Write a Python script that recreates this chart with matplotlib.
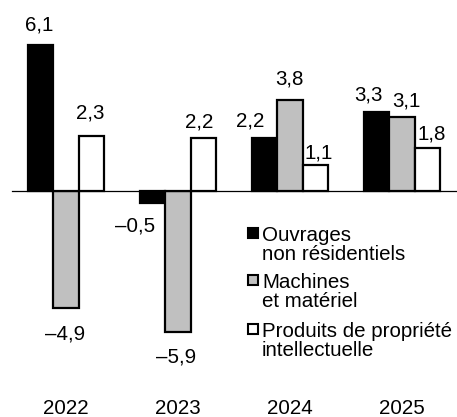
import numpy as np
import matplotlib.pyplot as plt
from matplotlib.patches import Rectangle

plt.rcParams['font.family'] = ['Liberation Sans', 'DejaVu Sans']

years = ["2022", "2023", "2024", "2025"]
series_names = ["Ouvrages\nnon résidentiels", "Machines\net matériel",
                "Produits de propriété\nintellectuelle"]
ouvrages = [6.1, -0.5, 2.2, 3.3]
machines = [-4.9, -5.9, 3.8, 3.1]
produits = [2.3, 2.2, 1.1, 1.8]

colors = ["black", "#c0c0c0", "white"]
fs = 14.8

# label offsets in pixels (dx, dy) from the end of each bar to the label centre
label_offsets = [
    [(-1, 20), (-17, -23), (-14, 17), (-8, 17)],
    [(-1, -26), (-2, -25), (-1, 21), (4, 16)],
    [(-1, 23), (-4, 16), (3, 12), (4, 14)],
]

W, H, DPI = 457, 417, 100
fig = plt.figure(figsize=(W / DPI, H / DPI), dpi=DPI)
ax = fig.add_axes([0, 0, 1, 1])

# 112 px per group, 23.9 px per unit, zero line 191 px from the top
px_x, px_y = 112.0, 23.9
x0, y0 = 66.0, 191.0
ax.set_xlim(-x0 / px_x, (W - x0) / px_x)
ax.set_ylim(-(H - y0) / px_y, y0 / px_y)
ax.axis("off")

x = np.arange(len(years))
bw = 25.5 / px_x
data = [ouvrages, machines, produits]

for k, vals in enumerate(data):
    xs = x + (k - 1) * bw
    ax.bar(xs, vals, width=bw, color=colors[k], edgecolor="black",
           linewidth=1.6, zorder=2)
    for i, v in enumerate(vals):
        dx, dy = label_offsets[k][i]
        txt = f"{v:.1f}".replace(".", ",").replace("-", "\u2013")
        ax.annotate(txt, (xs[i], v), xytext=(dx, dy), textcoords="offset pixels",
                    ha="center", va="center", fontsize=fs)

ax.axhline(0, xmin=12 / W, xmax=456 / W, color="black", linewidth=0.9, zorder=3)

for i, yr in enumerate(years):
    ax.text(x[i], -(408 - y0) / px_y, yr, ha="center", va="center", fontsize=fs)

# legend drawn by hand so the square sits on the first line of each label
def fx(px):
    return px / W

def fy(py):
    return 1 - py / H

baselines = [241, 288, 337]
line_step = 19
for k, name in enumerate(series_names):
    b = baselines[k]
    fig.patches.append(Rectangle((fx(247.5), fy(b - 3)), 10.5 / W, 10.5 / H,
                                 transform=fig.transFigure, facecolor=colors[k],
                                 edgecolor="black", linewidth=1.5))
    for j, line in enumerate(name.split("\n")):
        fig.text(fx(262), fy(b + j * line_step), line, ha="left",
                 va="baseline", fontsize=fs)

fig.savefig("out.png", dpi=DPI)
